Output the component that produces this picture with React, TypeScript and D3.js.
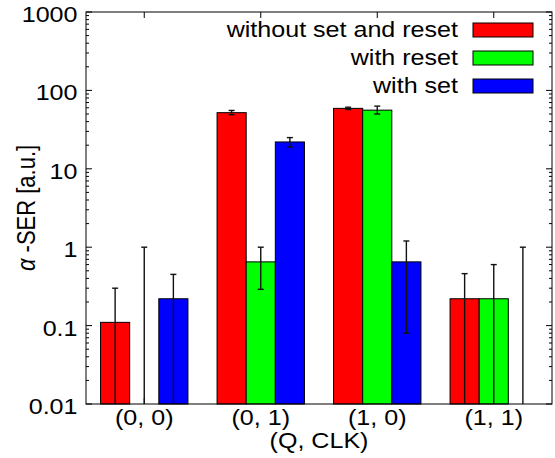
import React, { useRef, useEffect } from "react";
import * as d3 from "d3";

const categories = ["(0, 0)", "(0, 1)", "(1, 0)", "(1, 1)"];
const seriesNames = ["without set and reset", "with reset", "with set"];
const seriesColors = ["#ff0000", "#00ff00", "#0000ff"];

// bar heights (0 = no bar)
const withoutSetReset = [0.11, 52, 59, 0.22];
const withReset = [0, 0.65, 56, 0.22];
const withSet = [0.22, 22, 0.65, 0];

// error bar ends, 0 = runs off the bottom of the plot
const withoutSetResetLow = [0, 49, 57, 0];
const withoutSetResetHigh = [0.3, 55.5, 61, 0.46];
const withResetLow = [0, 0.29, 50, 0];
const withResetHigh = [1, 1, 63, 0.6];
const withSetLow = [0, 19, 0.08, 0];
const withSetHigh = [0.45, 25, 1.2, 1];

const yTicks = [0.01, 0.1, 1, 10, 100, 1000];
const yTickLabels = ["0.01", "0.1", "1", "10", "100", "1000"];

const App = () => {
  const svgRef = useRef<SVGSVGElement>(null);

  useEffect(() => {
    const svg = d3.select(svgRef.current);
    svg.selectAll("*").remove();
    const width = 555;
    const height = 458;
    const margin = { top: 12, right: 3, bottom: 54, left: 86 };
    const left = margin.left;
    const right = width - margin.right;
    const bottom = height - margin.bottom;
    const font = "'Liberation Sans', Arial, sans-serif";
    const fs = 22;
    const sx = 1.14; // text in the original is a bit stretched sideways

    const series = [
      { vals: withoutSetReset, lo: withoutSetResetLow, hi: withoutSetResetHigh },
      { vals: withReset, lo: withResetLow, hi: withResetHigh },
      { vals: withSet, lo: withSetLow, hi: withSetHigh },
    ];

    const x = d3
      .scaleLinear()
      .domain([-0.5, categories.length - 0.5])
      .range([left, right]);
    const barW = (x(1) - x(0)) / 4;
    const y = d3.scaleLog().domain([0.01, 1000]).range([bottom, margin.top]);
    const yc = (v: number) => (v <= 0.01 ? bottom : y(v));

    const text = (tx: number, ty: number, str: string, anchor: string) =>
      svg
        .append("g")
        .attr("transform", `translate(${tx},${ty}) scale(${sx},1)`)
        .append("text")
        .attr("text-anchor", anchor)
        .attr("font-family", font)
        .attr("font-size", fs)
        .attr("fill", "#000")
        .text(str);

    // tics (drawn under the bars)
    const tics = svg.append("g").attr("stroke", "#000").attr("stroke-width", 1);
    yTicks.forEach((t) => {
      tics.append("line").attr("x1", left).attr("x2", left + 6).attr("y1", y(t)).attr("y2", y(t));
      tics.append("line").attr("x1", right).attr("x2", right - 6).attr("y1", y(t)).attr("y2", y(t));
    });
    yTicks.slice(0, -1).forEach((d) => {
      d3.range(2, 10).forEach((k) => {
        const yy = y(d * k);
        tics.append("line").attr("x1", left).attr("x2", left + 3).attr("y1", yy).attr("y2", yy);
        tics.append("line").attr("x1", right).attr("x2", right - 3).attr("y1", yy).attr("y2", yy);
      });
    });
    categories.forEach((c, i) => {
      tics.append("line").attr("x1", x(i)).attr("x2", x(i)).attr("y1", margin.top).attr("y2", margin.top + 6);
      tics.append("line").attr("x1", x(i)).attr("x2", x(i)).attr("y1", bottom).attr("y2", bottom - 6);
    });

    // bars
    series.forEach((s, si) => {
      svg
        .append("g")
        .selectAll("rect")
        .data(s.vals.map((v, i) => ({ v, i })).filter((d) => d.v > 0))
        .enter()
        .append("rect")
        .attr("x", (d) => x(d.i) + (si - 1.5) * barW)
        .attr("width", barW)
        .attr("y", (d) => y(d.v))
        .attr("height", (d) => bottom - y(d.v))
        .attr("fill", seriesColors[si])
        .attr("stroke", "#000")
        .attr("stroke-width", 1);
    });

    // error bars
    const err = svg.append("g").attr("stroke", "#111").attr("stroke-width", 1.4);
    series.forEach((s, si) => {
      s.vals.forEach((v, i) => {
        const cx = x(i) + (si - 1) * barW;
        const top = y(s.hi[i]);
        const lo = yc(s.lo[i]);
        err.append("line").attr("x1", cx).attr("x2", cx).attr("y1", lo).attr("y2", top);
        err.append("line").attr("x1", cx - 3).attr("x2", cx + 3).attr("y1", top).attr("y2", top);
        if (s.lo[i] > 0.01) {
          err.append("line").attr("x1", cx - 3).attr("x2", cx + 3).attr("y1", lo).attr("y2", lo);
        }
      });
    });

    // border
    svg
      .append("rect")
      .attr("x", left)
      .attr("y", margin.top)
      .attr("width", right - left)
      .attr("height", bottom - margin.top)
      .attr("fill", "none")
      .attr("stroke", "#000")
      .attr("stroke-width", 1);

    // labels
    yTicks.forEach((t, i) => text(77.5, y(t) + 10, yTickLabels[i], "end"));
    categories.forEach((c, i) => text(x(i), 425, c, "middle"));
    text((left + right) / 2, 448, "(Q, CLK)", "middle");

    const yl = svg
      .append("g")
      .attr("transform", `translate(35,${(margin.top + bottom) / 2}) scale(${sx},1) rotate(-90)`)
      .append("text")
      .attr("text-anchor", "middle")
      .attr("font-family", font)
      .attr("font-size", fs)
      .attr("fill", "#000");
    yl.append("tspan").attr("font-style", "italic").text("\u03b1");
    yl.append("tspan").text(" -SER [a.u.]");

    // legend
    seriesNames.forEach((n, i) => {
      text(458, 37 + 28 * i, n, "end");
      svg
        .append("rect")
        .attr("x", 473)
        .attr("y", 23 + 28 * i)
        .attr("width", 60)
        .attr("height", 14)
        .attr("fill", seriesColors[i])
        .attr("stroke", "#000")
        .attr("stroke-width", 1);
    });
  }, []);

  return (
    <svg
      ref={svgRef}
      width={555}
      height={458}
      style={{ position: "absolute", left: 0, top: 0, background: "#fff" }}
    ></svg>
  );
};

export default App;
